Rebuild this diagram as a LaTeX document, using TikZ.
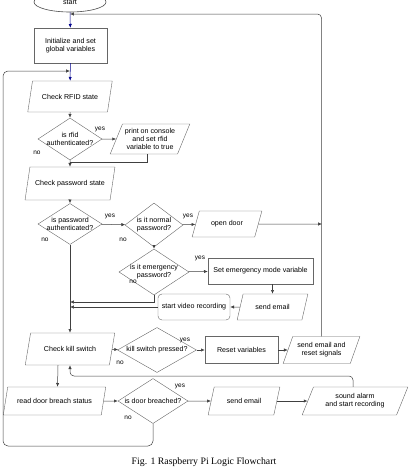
\documentclass[tikz,border=0pt]{standalone}
\usepackage{fontspec}
\setmainfont{Liberation Sans}
\newfontfamily\capfont{Liberation Serif}
\usetikzlibrary{arrows.meta,shapes.geometric}

\begin{document}
\begin{tikzpicture}[
    x=1pt,y=-1pt,
    base/.style={font=\fontsize{7.1}{7.8}\selectfont,align=center,inner sep=1pt},
    procbox/.style={base,draw=black!60,rectangle},
    iobox/.style={base,draw=black!60,trapezium,trapezium left angle=63,
      trapezium right angle=117,trapezium stretches=true},
    testbox/.style={draw=black!60,diamond,inner sep=0pt},
    termbox/.style={base,draw=black!70,ellipse,line width=0.6pt},
    lbl/.style={font=\fontsize{6.5}{7}\selectfont,inner sep=0pt},
    arrow/.style={-{Latex[length=3.8pt,width=3.2pt]},draw=black!75,line width=0.5pt},
    bluearrow/.style={arrow,draw=blue!55!black}
  ]
    \useasboundingbox (0,0) rectangle (414,471);
    \clip (0,0) rectangle (414,471);
    \node[termbox,minimum width=72pt,minimum height=20pt] (st) at (70,2) {start};
    \node[procbox,minimum width=73pt,minimum height=35pt] (init) at (70.5,45.5) {Initialize and set\\global variables};
    \node[iobox,minimum width=85pt,minimum height=31pt] (rfid) at (70,96.5) {Check RFID state};
    \node[testbox,minimum width=64pt,minimum height=42pt,
      label={[base]center:{is rfid\\authenticated?}}] (q1) at (70,139) {};
    \node[iobox,minimum width=80pt,minimum height=30pt] (print) at (150,139) {print on console\\and set rfid\\variable to true};
    \node[iobox,minimum width=90pt,minimum height=33pt] (pass) at (70,183.5) {Check password state};
    \node[testbox,minimum width=64pt,minimum height=41pt,
      label={[base]center:{is password\\authenticated?}}] (q2) at (70,224) {};
    \node[testbox,minimum width=58pt,minimum height=44pt,
      label={[base]center:{is it normal\\password?}}] (q3) at (154,225) {};
    \node[iobox,minimum width=70pt,minimum height=26pt] (door) at (227,224) {open door};
    \node[testbox,minimum width=70pt,minimum height=46pt,
      label={[base]center:{is it emergency\\password?}}] (q4) at (154,272) {};
    \node[procbox,minimum width=105pt,minimum height=26pt] (emode) at (260.5,271) {Set emergency mode variable};
    \node[iobox,minimum width=71pt,minimum height=26pt] (mail1) at (272.5,307) {send email};
    \node[procbox,rounded corners=4pt,minimum width=72pt,minimum height=26pt] (video) at (194,307) {start video recording};
    \node[iobox,minimum width=90pt,minimum height=32pt] (kill) at (70,349) {Check kill switch};
    \node[testbox,minimum width=79pt,minimum height=45pt,
      label={[base]center:{kill switch pressed?}}] (q5) at (157,350) {};
    \node[procbox,minimum width=73pt,minimum height=27pt] (reset) at (241.5,350) {Reset variables};
    \node[iobox,minimum width=77pt,minimum height=27pt] (resmail) at (321.5,350) {send email and\\reset signals};
    \node[iobox,minimum width=103pt,minimum height=28pt] (read) at (54.5,401) {read door breach status};
    \node[testbox,minimum width=70pt,minimum height=45pt,
      label={[base]center:{is door breached?}}] (q6) at (153,401) {};
    \node[iobox,minimum width=72pt,minimum height=28pt] (mail2) at (244,401) {send email};
    \node[iobox,minimum width=106pt,minimum height=28pt] (alarm) at (355,401) {sound alarm\\and start recording};

    \node[lbl] (y1) at (100,129) {yes};
    \node[lbl] (n1) at (37,153) {no};
    \node[lbl] (y2) at (110,216) {yes};
    \node[lbl] (n2) at (45,240) {no};
    \node[lbl] (y3) at (188,216) {yes};
    \node[lbl] (n3) at (123,240) {no};
    \node[lbl] (y4) at (200,258) {yes};
    \node[lbl] (n4) at (133,282) {no};
    \node[lbl] (y5) at (185,340) {yes};
    \node[lbl] (n5) at (120,363) {no};
    \node[lbl] (y6) at (180,386) {yes};
    \node[lbl] (n6) at (128,418) {no};

    \coordinate (j1) at (70,162);
    \coordinate (j2) at (322,224);
    \coordinate (j3) at (70,302);
    \coordinate (j4) at (70,307);
    \coordinate (j5) at (70,14);
    \coordinate (j6) at (70,376);
    \coordinate (j7) at (70,71);
    \coordinate (c2) at (3,446);

    \draw[bluearrow] (st) -- (init);
    \draw[bluearrow] (init) -- (rfid);
    \draw[arrow] (rfid) -- (q1);
    \draw[arrow] (q1) -- (print);
    \draw[arrow] (q1) -- (pass);
    \draw[draw=black!75,line width=0.5pt] ([xshift=-3pt]print.south) |- (j1);
    \draw[arrow] (pass) -- (q2);
    \draw[arrow] (q2) -- (q3);
    \draw[arrow] (q3) -- (door);
    \draw[arrow] (door) -- (j2);
    \draw[arrow] (q3) -- (q4);
    \draw[arrow] (q4) -- (emode);
    \draw[arrow] (mail1.north |- emode.south) -- (mail1.north);
    \draw[arrow] (mail1) -- (video);
    \draw[arrow] (video) -- (j4);
    \draw[arrow] (q4.south) |- (j3);
    \draw[arrow] (q2) -- (kill);
    \draw[arrow] (kill) -- (q5);
    \draw[arrow] (q5) -- (reset);
    \draw[arrow] (reset) -- (resmail);
    \draw[arrow,rounded corners=4pt] (resmail.north) |- (j5);
    \draw[arrow,rounded corners=4pt] ([xshift=-2pt]alarm.north) |- (j6) [sharp corners] -- (kill.south);
    \draw[arrow] ([xshift=-12pt]kill.south) -- ([xshift=3pt]read.north);
    \draw[arrow] (read) -- (q6);
    \draw[arrow] (q6) -- (mail2);
    \draw[arrow] (mail2) -- (alarm);
    \draw[arrow,rounded corners=5pt] (q6.south) |- (c2) |- (j7);

    \node[font=\capfont\fontsize{9.8}{11}\selectfont] (cap) at (204,462) {Fig. 1 Raspberry Pi Logic Flowchart};
\end{tikzpicture}
\end{document}
